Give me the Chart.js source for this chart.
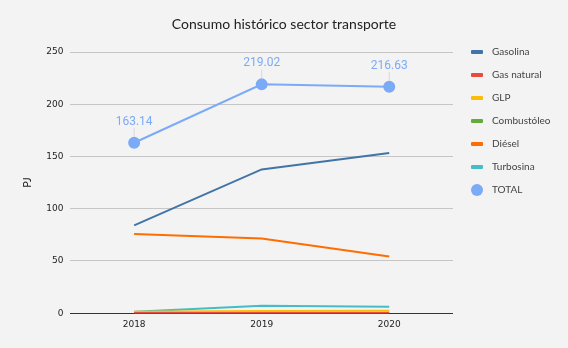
<!DOCTYPE html>
<html>
<head>
<meta charset="utf-8">
<script src="https://cdn.jsdelivr.net/npm/chart.js@4/dist/chart.umd.min.js"></script>
<style>
  html, body { margin: 0; padding: 0; background: #f3f3f3; }
  #contenedor { width: 568px; height: 348px; }
</style>
</head>
<body>
<div id="contenedor"><canvas id="grafico-transporte"></canvas></div>
<script>
// Consumo por año (PJ)
const anios = ["2018", "2019", "2020"];
const gasolina = [84.1, 137.6, 153.4];
const gasNatural = [0.2, 0.3, 0.3];
const glp = [1.5, 2.2, 2.3];
const combustoleo = [0.3, 0.2, 0.2];
const diesel = [75.7, 71.6, 54.2];
const turbosina = [1.34, 7.12, 6.23];
const total = [163.14, 219.02, 216.63];
const ticksY = [0, 50, 100, 150, 200, 250];

const titulo = "Consumo histórico sector transporte";

function serie(label, data, color){
    return {
        label: label,
        data: data,
        borderColor: color,
        backgroundColor: color,
        borderWidth: 2,
        pointRadius: 0,
        pointHoverRadius: 0,
        tension: 0
    };
}

const seriesCombustibles = [
    serie("Gasolina", gasolina, "#4374a7"),
    serie("Gas natural", gasNatural, "#e84c3d"),
    serie("GLP", glp, "#fbbd07"),
    serie("Combustóleo", combustoleo, "#63ac3c"),
    serie("Diésel", diesel, "#ff6d01"),
    serie("Turbosina", turbosina, "#46bdc6")
];

const serieTotal = {
    label: "TOTAL",
    data: total,
    borderColor: "#7baaf7",
    backgroundColor: "#7baaf7",
    borderWidth: 2,
    pointRadius: 5,
    pointHoverRadius: 5,
    tension: 0,
    etiquetas: true
};

// Etiquetas de valor con su línea guía sobre los puntos del total
const etiquetasTotal = {
    id: "etiquetasTotal",
    afterDatasetsDraw(chart){
        const ctx = chart.ctx;
        chart.data.datasets.forEach((ds, i) => {
            if(!ds.etiquetas) return;
            chart.getDatasetMeta(i).data.forEach((pt, j) => {
                ctx.save();
                ctx.strokeStyle = "#d8d8d8";
                ctx.lineWidth = 1;
                ctx.beginPath();
                ctx.moveTo(pt.x, pt.y - 6);
                ctx.lineTo(pt.x, pt.y - 15);
                ctx.stroke();
                ctx.fillStyle = ds.borderColor;
                ctx.font = "12px Roboto";
                ctx.textAlign = "center";
                ctx.textBaseline = "bottom";
                ctx.fillText(ds.data[j].toFixed(2), pt.x, pt.y - 15);
                ctx.restore();
            });
        });
    }
};

// Leyenda a la derecha: barra corta para las líneas, círculo para el total
const leyenda = {
    id: "leyenda",
    afterDraw(chart){
        const ctx = chart.ctx;
        const x = chart.chartArea.right + 18;
        let y = chart.chartArea.top;
        ctx.save();
        ctx.font = "10px Lato";
        ctx.textBaseline = "middle";
        chart.data.datasets.forEach(ds => {
            ctx.fillStyle = ds.borderColor;
            if(ds.etiquetas){
                ctx.beginPath();
                ctx.arc(x + 6, y, 6, 0, Math.PI * 2);
                ctx.fill();
            } else {
                ctx.beginPath();
                ctx.roundRect(x, y - 2, 12, 4, 1);
                ctx.fill();
            }
            ctx.fillStyle = "#444";
            ctx.fillText(ds.label, x + 21, y);
            y += 23;
        });
        ctx.restore();
    }
};

// Fondo gris y título centrado en todo el ancho
const fondo = {
    id: "fondo",
    beforeDraw(chart){
        const ctx = chart.ctx;
        ctx.save();
        ctx.fillStyle = "#f3f3f3";
        ctx.fillRect(0, 0, chart.width, chart.height);
        ctx.fillStyle = "#222";
        ctx.font = "14px Lato";
        ctx.textAlign = "center";
        ctx.textBaseline = "middle";
        ctx.fillText(titulo, chart.width / 2, 24);
        ctx.restore();
    }
};

const canvas = document.getElementById("grafico-transporte").getContext("2d");
new Chart(canvas, {
    type: "line",
    data: {
        labels: anios,
        datasets: seriesCombustibles.concat([serieTotal])
    },
    options: {
        responsive: true,
        maintainAspectRatio: false,
        animation: false,
        layout: { padding: { left: 17, right: 115, top: 52, bottom: 12 } },
        plugins: {
            title: { display: false },
            legend: { display: false },
            tooltip: { enabled: false }
        },
        scales: {
            x: {
                offset: true,
                grid: { display: false, drawTicks: false },
                border: { display: false },
                ticks: { color: "#222", font: { family: "DejaVu Sans", size: 9 }, padding: 6 }
            },
            y: {
                min: 0,
                max: 250,
                afterBuildTicks(axis){
                    axis.ticks = ticksY.map(v => ({ value: v }));
                },
                grid: {
                    color: ctx => ctx.tick.value === 0 ? "#333" : "#c6c6c6",
                    drawTicks: false
                },
                border: { display: false },
                ticks: { color: "#222", font: { family: "DejaVu Sans", size: 9 }, padding: 7 },
                title: {
                    display: true,
                    text: "PJ",
                    color: "#222",
                    font: { family: "Lato", size: 11 },
                    padding: { bottom: 5 }
                }
            }
        }
    },
    plugins: [fondo, etiquetasTotal, leyenda]
});
</script>
</body>
</html>
